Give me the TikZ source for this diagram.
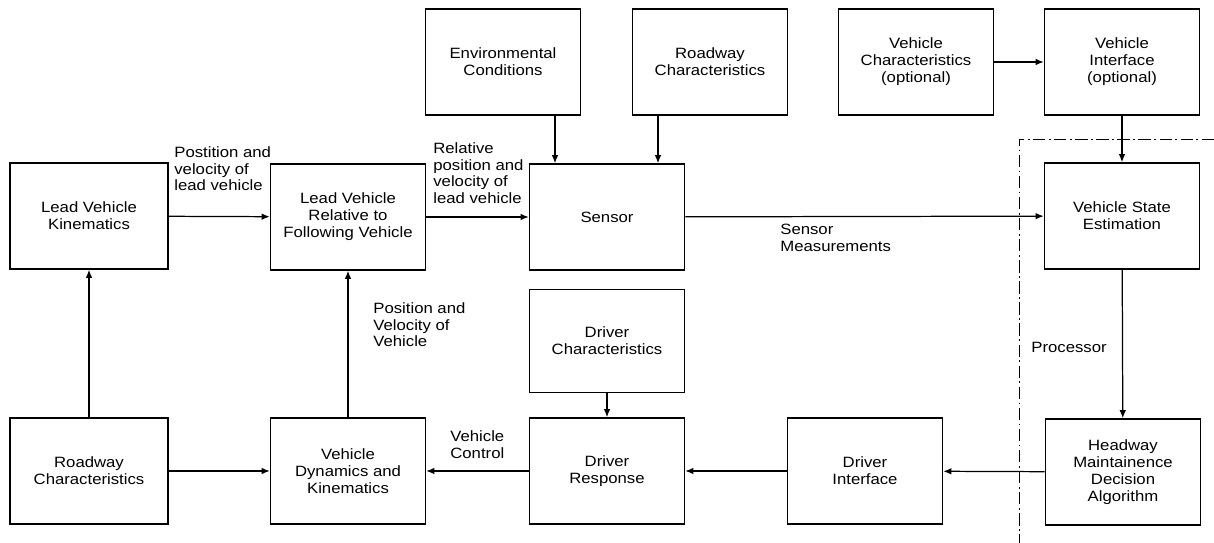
\documentclass[tikz,border=0pt]{standalone}
\usepackage{fontspec}
\setmainfont{Liberation Sans}[FakeStretch=1.12]
\usetikzlibrary{positioning,arrows.meta,calc}

\begin{document}
\begin{tikzpicture}[x=0.02cm,y=-0.02cm,
      box/.style={draw,line width=0.9pt,minimum width=3.1cm,minimum height=2.12cm,align=center,font=\fontsize{8.5}{9.6}\selectfont},
      lbl/.style={align=left,inner sep=0pt,anchor=north west,font=\fontsize{8.5}{9.6}\selectfont},
      arr/.style={-{Latex[length=1.6mm,width=1.3mm]},line width=0.7pt}]
    \useasboundingbox (0,0) rectangle (1214,543);
    % top row
    \node[box] (env) at (503,62) {Environmental\\ Conditions};
    \node[box] (rdt) at (710,62) {Roadway\\ Characteristics};
    \node[box] (vch) at (916,62) {Vehicle\\ Characteristics\\ (optional)};
    \node[box] (vif) at (1122,62) {Vehicle\\ Interface\\ (optional)};
    % middle row
    \node[box,minimum width=3.16cm] (lvk) at (89,216) {Lead Vehicle\\ Kinematics};
    \node[box] (lvr) at (348,217) {Lead Vehicle\\ Relative to\\ Following Vehicle};
    \node[box] (sens) at (607,217) {Sensor};
    \node[box] (vse) at (1122,216) {Vehicle State\\ Estimation};
    \node[box,minimum height=2.06cm] (dch) at (607,341) {Driver\\ Characteristics};
    % bottom row
    \node[box,minimum width=3.16cm] (rdb) at (89,471) {Roadway\\ Characteristics};
    \node[box] (vdk) at (348,471) {Vehicle\\ Dynamics and\\ Kinematics};
    \node[box] (drs) at (607,471) {Driver\\ Response};
    \node[box] (dif) at (865,471) {Driver\\ Interface};
    \node[box] (hma) at (1123,472) {Headway\\ Maintainence\\ Decision\\ Algorithm};
    % processor boundary
    \draw[line width=0.5pt,dash pattern=on 7pt off 2pt on 1pt off 2pt] (1214,139) -- (1019,139) -- (1019,543);
    \node[lbl,anchor=west] (proc) at (1031,347) {Processor};
    % labels
    \node[lbl] (l1) at (174,146) {Postition and\\ velocity of\\ lead vehicle};
    \node[lbl] (l2) at (433,142) {Relative\\ position and\\ velocity of\\ lead vehicle};
    \node[lbl] (l3) at (780,224) {Sensor\\ Measurements};
    \node[lbl] (l4) at (373,302) {Position and\\ Velocity of\\ Vehicle};
    \node[lbl] (l5) at (450,430) {Vehicle\\ Control};
    % connectors
    \coordinate (s1) at ($(sens.north)+(-52,0)$);
    \coordinate (s2) at ($(sens.north)+(51,0)$);
    \draw[arr] (lvk) -- (lvr);
    \draw[arr] (lvr) -- (sens);
    \draw[arr] (sens) -- (vse);
    \draw[arr] (env.south -| s1) -- (s1);
    \draw[arr] (rdt.south -| s2) -- (s2);
    \draw[arr] (vch) -- (vif);
    \draw[arr] (vif) -- (vse);
    \draw[arr] (vse) -- (hma);
    \draw[arr] (hma) -- (dif);
    \draw[arr] (dif) -- (drs);
    \draw[arr] (dch) -- (drs);
    \draw[arr] (drs) -- (vdk);
    \draw[arr] (rdb) -- (vdk);
    \draw[arr] (rdb) -- (lvk);
    \draw[arr] (vdk) -- (lvr);
  \end{tikzpicture}
\end{document}
